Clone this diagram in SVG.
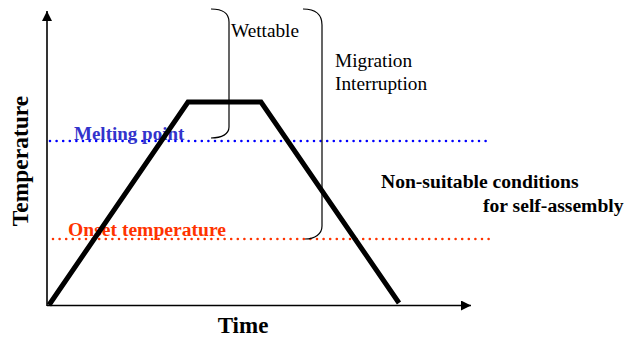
<svg xmlns="http://www.w3.org/2000/svg" width="627" height="339" viewBox="0 0 627 339">
<defs>
<style>
.serif{font-family:"Liberation Serif","Times New Roman",serif;}
.b{font-weight:bold;}
.axis{stroke:#000;stroke-width:1.6;fill:none;}
.brace{stroke:#000;stroke-width:1.2;fill:none;}
.dot{stroke-width:2.6;stroke-linecap:round;stroke-dasharray:0 6.6;fill:none;}
</style>
<marker id="ah" viewBox="0 0 10 10" refX="10" refY="5" markerWidth="10" markerHeight="10" markerUnits="userSpaceOnUse" orient="auto">
<path d="M0,0 L10,5 L0,10 Z" fill="#000"/>
</marker>
</defs>
<rect width="627" height="339" fill="#fff"/>
<g id="axes">
<line class="axis" x1="47" y1="306" x2="47" y2="11" marker-end="url(#ah)"/>
<line class="axis" x1="47" y1="305.5" x2="471" y2="305.5" marker-end="url(#ah)"/>
<text class="serif b" font-size="23.5" transform="translate(28,161) rotate(-90)" text-anchor="middle">Temperature</text>
<text class="serif b" font-size="23" x="243" y="333" text-anchor="middle">Time</text>
</g>
<g id="melting-point">
<line class="dot" x1="50" y1="141" x2="488" y2="141" stroke="#0000ff"/>
<text class="serif b" font-size="19" x="74" y="140" fill="#3333cc">Melting point</text>
</g>
<g id="onset-temperature">
<line class="dot" x1="53" y1="239" x2="490" y2="239" stroke="#ff3300"/>
<text class="serif b" font-size="19.6" x="68" y="236" fill="#ff3300">Onset temperature</text>
</g>
<g id="profile">
<polyline points="49,305 188,102 261,102 399,303" fill="none" stroke="#000" stroke-width="5"/>
</g>
<g id="wettable">
<path class="brace" d="M211,9 C222,9 229,13 229,22 L229,127 C229,134 222,138 211,138"/>
<text class="serif" font-size="19.3" x="231" y="37">Wettable</text>
</g>
<g id="migration-interruption">
<path class="brace" d="M303,9 C315,9 322,14 322,25 L322,226 C322,234 315,239 305,239"/>
<text class="serif" font-size="19.3" x="335" y="67">Migration</text>
<text class="serif" font-size="19.3" x="335" y="90">Interruption</text>
</g>
<g id="non-suitable">
<text class="serif b" font-size="19.6" x="381" y="188">Non-suitable conditions</text>
<text class="serif b" font-size="19.6" x="483" y="212">for self-assembly</text>
</g>
</svg>
